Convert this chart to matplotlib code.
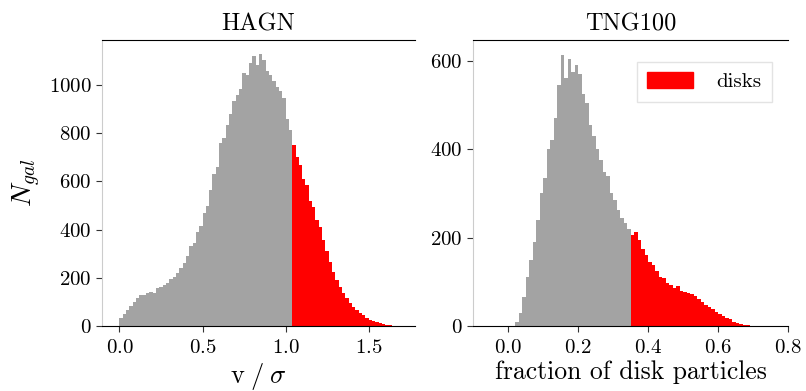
import numpy as np
import matplotlib
matplotlib.use("Agg")
import matplotlib.pyplot as plt
from matplotlib.patches import Patch

plt.rcParams['font.family'] = 'serif'
plt.rcParams['font.serif'] = ['cmr10', 'DejaVu Serif']
plt.rcParams['mathtext.fontset'] = 'cm'
plt.rcParams['axes.formatter.use_mathtext'] = True

# ---- HAGN: v/sigma histogram (bin width 0.02 from 0.0) ----
hagn_start = 0.0
hagn_width = 0.02
hagn_counts = [
    35, 50, 65, 85, 100, 118, 128, 130, 135, 140,
    138, 158, 162, 170, 180, 195, 205, 222, 240, 262,
    290, 330, 345, 390, 415, 470, 500, 565, 630, 660,
    760, 780, 835, 880, 935, 960, 985, 1050, 1040, 1090,
    1120, 1085, 1130, 1105, 1060, 1040, 1015, 990, 975, 945,
    860, 815,
    750, 700, 670, 610, 585, 520, 495, 440, 410, 355,
    310, 265, 225, 190, 160, 135, 115, 95, 80, 68,
    55, 45, 35, 26, 20, 15, 12, 8, 5, 3, 2,
]
hagn_cut = 1.04

# ---- TNG100: fraction of disk particles (bin width 0.01 from 0.02) ----
tng_start = 0.02
tng_width = 0.01
tng_counts = [
    10, 30, 65, 110, 150, 190, 240, 300, 335, 400,
    420, 470, 545, 612, 560, 605, 575, 590, 570, 525,
    505, 455, 430, 400, 375, 348, 340, 300, 285, 262,
    245, 232, 220,
    205, 212, 195, 175, 160, 145, 138, 125, 112, 108,
    98, 92, 85, 90, 80, 78, 75, 72, 68, 62,
    55, 48, 42, 38, 32, 28, 22, 18, 15, 10,
    7, 5, 3, 2, 1,
]
tng_cut = 0.35

gray = '#a3a3a3'
red = '#ff0000'


def draw(ax, start, width, counts, cut):
    counts = np.asarray(counts, dtype=float)
    edges = start + width * np.arange(len(counts) + 1)
    k = int(round((cut - start) / width))
    ax.stairs(counts[:k], edges[:k + 1], fill=True, color=gray, linewidth=0)
    ax.stairs(counts[k:], edges[k:], fill=True, color=red, linewidth=0)


fig = plt.figure(figsize=(8.06, 3.91), dpi=100)
ax1 = fig.add_axes([0.1266, 0.1662, 0.3884, 0.7315])
ax2 = fig.add_axes([0.587, 0.1662, 0.391, 0.7315])

draw(ax1, hagn_start, hagn_width, hagn_counts, hagn_cut)
draw(ax2, tng_start, tng_width, tng_counts, tng_cut)

ax1.set_xlim(-0.105, 1.78)
ax1.set_ylim(0, 1187)
ax1.set_xticks([0.0, 0.5, 1.0, 1.5])
ax1.set_yticks([0, 200, 400, 600, 800, 1000])
ax1.set_title('HAGN', fontsize=17.5, pad=7)
ax1.set_xlabel(r'$\mathrm{v}\;/\;\sigma$', fontsize=19, labelpad=3)
ax1.set_ylabel(r'$N_{gal}$', fontsize=20, labelpad=4)

ax2.set_xlim(-0.1, 0.8)
ax2.set_ylim(0, 647)
ax2.set_xticks([0.0, 0.2, 0.4, 0.6, 0.8])
ax2.set_yticks([0, 200, 400, 600])
ax2.set_title('TNG100', fontsize=17.5, pad=7)
ax2.set_xlabel('fraction of disk particles', fontsize=18.5, labelpad=3)

for ax in (ax1, ax2):
    ax.spines['top'].set_color('black')
    ax.spines['bottom'].set_color('black')
    ax.spines['left'].set_color('#cccccc')
    ax.spines['right'].set_visible(False)
    ax.tick_params(labelsize=15, length=4, width=0.8, color='#333333')
    ax.tick_params(axis='x', pad=5)

ax2.legend(handles=[Patch(color=red, label='disks')], loc='upper right',
           fontsize=15, frameon=True, fancybox=False, edgecolor='#dddddd',
           handlelength=2.2, handleheight=0.8, borderpad=0.5,
           handletextpad=1.1, bbox_to_anchor=(0.98, 0.96))

fig.savefig('out.png', dpi=100)
